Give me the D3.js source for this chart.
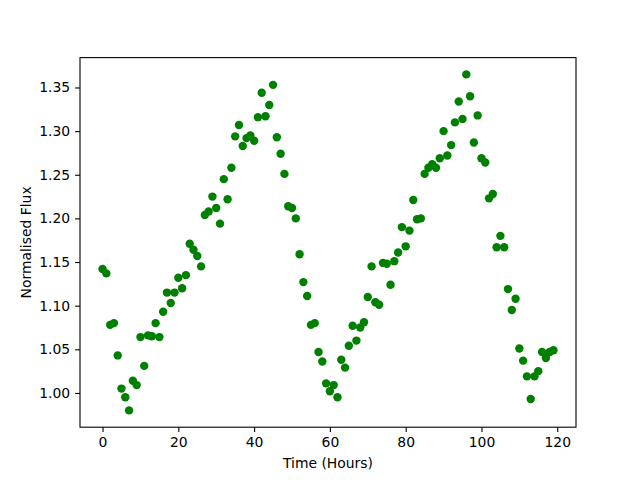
<!DOCTYPE html>
<html>
<head>
<meta charset="utf-8">
<script src="https://cdn.jsdelivr.net/npm/d3@7"></script>
<style>
  body { margin: 0; background: #fff; }
  svg { display: block; font-family: "DejaVu Sans", sans-serif; }
</style>
</head>
<body>
<div id="chart"></div>
<script>
// hours 0..119, one sample per hour
const hours = d3.range(0, 120);
const flux = [
  1.142, 1.137, 1.078, 1.080, 1.043, 1.005, 0.995, 0.980, 1.014, 1.009,
  1.064, 1.031, 1.066, 1.065, 1.080, 1.064, 1.093, 1.115, 1.103, 1.115,
  1.132, 1.120, 1.135, 1.171, 1.164, 1.157, 1.145, 1.204, 1.208, 1.225,
  1.212, 1.194, 1.245, 1.222, 1.258, 1.294, 1.307, 1.283, 1.292, 1.295,
  1.289, 1.316, 1.344, 1.317, 1.330, 1.353, 1.293, 1.274, 1.251, 1.214,
  1.212, 1.200, 1.159, 1.127, 1.111, 1.078, 1.080, 1.047, 1.036, 1.011,
  1.002, 1.009, 0.995, 1.038, 1.029, 1.054, 1.077, 1.060, 1.075, 1.081,
  1.110, 1.145, 1.104, 1.101, 1.149, 1.148, 1.124, 1.151, 1.161, 1.190,
  1.168, 1.186, 1.221, 1.199, 1.200, 1.251, 1.258, 1.262, 1.258, 1.269,
  1.300, 1.272, 1.284, 1.310, 1.334, 1.314, 1.365, 1.340, 1.287, 1.318,
  1.269, 1.264, 1.223, 1.228, 1.167, 1.180, 1.167, 1.119, 1.095, 1.108,
  1.051, 1.037, 1.019, 0.993, 1.019, 1.025, 1.047, 1.040, 1.047, 1.049
];
const xTicks = [0, 20, 40, 60, 80, 100, 120];
const yTicks = [1.00, 1.05, 1.10, 1.15, 1.20, 1.25, 1.30, 1.35];

const width = 640, height = 480;
const margin = { top: 57.6, right: 64, bottom: 52.8, left: 80 };
const innerW = width - margin.left - margin.right;
const innerH = height - margin.top - margin.bottom;

// matplotlib style 5% padding around the data
const xExt = d3.extent(hours), yExt = d3.extent(flux);
const xPad = (xExt[1] - xExt[0]) * 0.05, yPad = (yExt[1] - yExt[0]) * 0.05;

const x = d3.scaleLinear().domain([xExt[0] - xPad, xExt[1] + xPad]).range([0, innerW]);
const y = d3.scaleLinear().domain([yExt[0] - yPad, yExt[1] + yPad]).range([innerH, 0]);

const svg = d3.select('#chart').append('svg').attr('width', width).attr('height', height);
const g = svg.append('g').attr('transform', `translate(${margin.left},${margin.top})`);

g.selectAll('circle.pt')
  .data(hours)
  .enter()
  .append('circle')
  .attr('class', 'pt')
  .attr('cx', (d) => x(d))
  .attr('cy', (d, i) => y(flux[i]))
  .attr('r', 4.2)
  .attr('fill', '#008000');

const xAxis = g.append('g')
  .attr('transform', `translate(0,${innerH})`)
  .call(d3.axisBottom(x).tickValues(xTicks).tickFormat(d3.format('d')).tickSize(4.9).tickPadding(4.9));
const yAxis = g.append('g')
  .call(d3.axisLeft(y).tickValues(yTicks).tickFormat(d3.format('.2f')).tickSize(4.9).tickPadding(4.9));

[xAxis, yAxis].forEach((a) => {
  a.select('.domain').remove();
  a.selectAll('.tick line').attr('stroke', '#000').attr('stroke-width', 1.1);
  a.selectAll('.tick text').attr('font-size', '13.9px').attr('fill', '#000')
    .attr('font-family', '"DejaVu Sans", sans-serif');
});

// frame
g.append('rect')
  .attr('width', innerW).attr('height', innerH)
  .attr('fill', 'none').attr('stroke', '#000').attr('stroke-width', 1.1);

svg.append('text')
  .attr('x', margin.left + innerW / 2)
  .attr('y', height - 12)
  .attr('text-anchor', 'middle')
  .attr('font-size', '13.9px')
  .text('Time (Hours)');

svg.append('text')
  .attr('transform', `translate(31,${margin.top + innerH / 2}) rotate(-90)`)
  .attr('text-anchor', 'middle')
  .attr('font-size', '13.9px')
  .text('Normalised Flux');
</script>
</body>
</html>
